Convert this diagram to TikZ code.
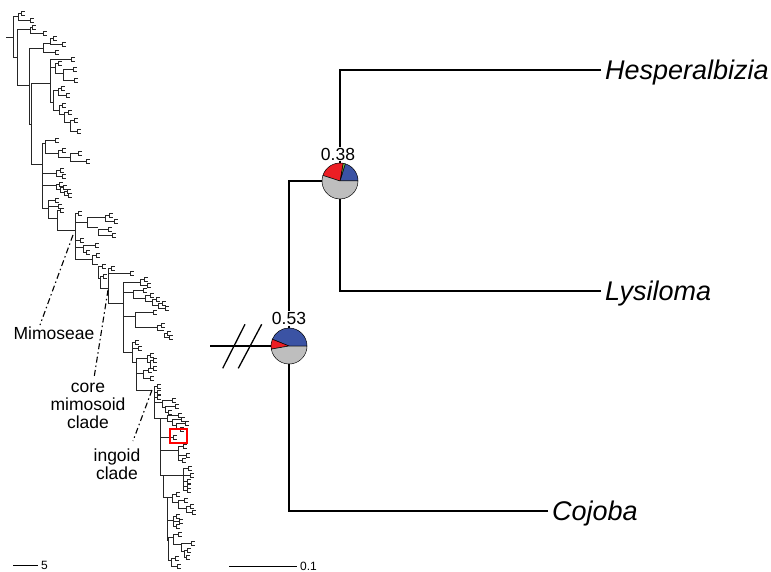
\documentclass[tikz,border=0pt]{standalone}
\usepackage{fontspec}
\setmainfont{Liberation Sans}
\usepackage{xcolor}
\usetikzlibrary{positioning, calc}
\definecolor{pieblue}{RGB}{59,83,164}
\definecolor{piered}{RGB}{236,30,36}
\definecolor{piegreen}{RGB}{110,190,70}
\definecolor{piegrey}{RGB}{190,190,190}
\tikzset{
  lefttree/.style  = {draw=black!85, line width=0.75pt},
  br/.style        = {draw=black, line width=1.5pt},
  taxon/.style     = {anchor=west, inner sep=4pt, text height=19.4pt, text depth=0pt,
                      font=\fontsize{27}{30}\selectfont\itshape},
  prob/.style      = {fill=white, inner sep=1pt, font=\fontsize{17.5}{20}\selectfont},
  pie/.style       = {circle, minimum size=36pt, inner sep=0pt},
  slice/.style     = {draw=black, line width=0.5pt, line join=round},
  cladelbl/.style  = {align=center, inner sep=0pt, font=\fontsize{17.5}{18}\selectfont},
  cladeline/.style = {line width=1.1pt, dash pattern=on 6pt off 3pt on 1.5pt off 3pt},
  scalelbl/.style  = {anchor=base west, inner sep=0pt, font=\fontsize{12}{14}\selectfont},
}

\begin{document}
\begin{tikzpicture}[x=1pt, y=-1pt]
  \useasboundingbox (0,0) rectangle (771,572);

  % Full tree (left): bifurcations x / x1 / y1 / x2 / y2
  \draw[lefttree] (6,37) -- (13,37);
  \foreach \x/\xa/\ya/\xb/\yb in {
      13/18/16/17/57, 18/21/13/30/20, 17/30/29/30/85, 30/32/27/43/33,
      29.5/43/48/31/124, 43/50/43/55/52, 50/53/38/62/44, 31/50/83/42/164,
      50/71/59/53/102, 50/50/67/55/67, 55/58/63/63/73, 63/73/69/74/80,
      53/58/90/59/110, 58/61/88/66/95, 59/62/105/64/114, 64/68/112/70/122,
      70/74/120/77/131,
      42/45/143/48/208, 42/42/173/56/173, 42/42/185/56/185, 45/55/140/58/153,
      58/62/150/70/157, 70/78/153/86/161, 56/60/170/62/176, 56/59/184/60/189,
      60/63/187/64/192, 64/67/191/68/195, 48/55/200/57/218, 48/48/206/58/206,
      57/60/210/75/230,
      75/78/213/92/259, 75/75/222/87/222, 87/105/217/98/227, 105/109/215/114/221,
      98/108/229/112/235, 75/75/240/80/240, 75/75/247/83/247, 83/95/245/86/252,
      92/96/255/98/264, 98/102/266/100/278, 100/103/276/108/288,
      108/111/268/123/303, 108/108/273/130/273, 123/140/282/132/352,
      140/144/279/147/285, 123/123/292/133/292, 133/143/290/145/298,
      145/150/295/152/301, 152/156/299/158/305, 158/162/303/165/308,
      123/123/316/135/316, 135/153/312/157/327, 157/161/325/164/330,
      164/167/333/169/337, 132/135/342/136/362, 132/132/348/138/348,
      136/147/358/152/390, 147/150/355/150/362, 150/153/360/153/368,
      136/136/373/143/373, 143/148/370/150/378,
      154/157/386/160/418, 154/154/392/157/392, 154/154/397/157/397,
      154/154/402/162/402, 162/172/400/165/407, 165/175/406/168/412,
      160/167/418/163/475, 160/160/437/173/437, 160/160/450/178/450,
      167/178/415/172/421, 172/181/419/176/425, 176/185/423/180/429,
      178/183/446/182/460, 178/178/455/186/455,
      163/183/475/167/497, 183/188/468/187/490, 183/183/475/190/475,
      183/183/481/187/481, 183/183/486/187/486,
      167/172/497/168/540, 172/176/494/178/502, 178/184/500/186/508,
      186/190/506/192/512, 167/167/520/173/520, 173/176/516/176/526,
      173/173/521/179/521, 168/173/537/171/560, 173/178/534/181/544,
      181/191/543/184/551, 184/187/550/186/557, 171/175/558/177/566}
    \draw[lefttree] (\xa,\ya) -| (\x,\yb) -- (\xb,\yb);
  % tips
  \foreach \x/\y in {
      21/13, 30/20, 32/27, 43/33, 53/38, 62/44, 55/52, 71/59, 58/63, 73/69,
      74/80, 61/88, 66/95, 62/105, 68/112, 74/120, 77/131,
      55/140, 62/150, 78/153, 86/161, 60/170, 62/176, 59/184, 63/187, 67/191,
      68/195, 55/200, 58/206, 60/210,
      78/213, 109/215, 114/221, 108/229, 112/235, 80/240, 95/245, 86/252,
      96/255, 102/266, 103/276,
      111/268, 130/273, 144/279, 147/285, 143/290, 150/295, 156/299, 162/303,
      165/308, 153/312, 161/325, 167/333, 169/337, 135/342, 138/348, 150/355,
      153/360, 153/368, 148/370, 150/378,
      157/386, 157/392, 157/397, 172/400, 175/406, 168/412, 178/415, 181/419,
      185/423, 180/429, 173/437, 183/446, 186/455, 182/460, 188/468, 190/475,
      187/481, 187/486, 187/490, 176/494, 184/500, 190/506, 192/512, 176/516,
      179/521, 176/526, 178/534, 191/543, 187/550, 186/557, 175/558, 177/566}
    \draw[lefttree] (\x+3.5,\y-2) -| (\x,\y+2) -- (\x+3.5,\y+2);

  % highlighted clade
  \draw[red, line width=1.2pt] (170,429) rectangle (187,443);

  % Clade labels
  \node[cladelbl] (mim)  at (54,333)  {Mimoseae};
  \node[cladelbl] (core) at (88,406)  {core\\mimosoid\\clade};
  \node[cladelbl] (ingo) at (117,464) {ingoid\\clade};
  \coordinate (mimnode)  at (73,235);
  \coordinate (mimend)   at (40,325);
  \coordinate (corenode) at (108,290);
  \coordinate (coreend)  at (94,378);
  \coordinate (ingonode) at (152,390);
  \coordinate (ingoend)  at (133,441);
  \draw[cladeline] (mimnode) -- (mimend);
  \draw[cladeline] (corenode) -- (coreend);
  \draw[cladeline] (ingonode) -- (ingoend);

  % Scale bars
  \coordinate (sba) at (13,565);
  \coordinate (sbb) at (38,565);
  \draw[line width=1pt] (sba) -- (sbb);
  \node[scalelbl] (sbl) at (41,569.5) {5};
  \coordinate (sbc) at (229,566);
  \coordinate (sbd) at (297,566);
  \draw[line width=1pt] (sbc) -- (sbd);
  \node[scalelbl] (sbr) at (300,570.5) {0.1};

  % Pruned tree (right)
  \node[pie] (pA) at (340,181) {};
  \node[pie] (pB) at (289,346) {};
  \node[taxon] (hesp) at (601,70)  {Hesperalbizia};
  \node[taxon] (lysi) at (601,291) {Lysiloma};
  \node[taxon] (cojo) at (548,511) {Cojoba};

  \draw[br] (hesp.west) -| (pA.north);
  \draw[br] (lysi.west) -| (pA.south);
  \draw[br] (pA.west) -| (pB.north);
  \draw[br] (cojo.west) -| (pB.south);
  \coordinate (stub) at (210,346);
  \draw[br] (stub) -- (pB.west);

  % posterior values
  \node[prob] (nA) at (338,154)   {0.38};
  \node[prob] (nB) at (289,318.5) {0.53};

  % break marks
  \coordinate (k1a) at (222.7,368.3);
  \coordinate (k1b) at (245,324.3);
  \coordinate (k2a) at (238.3,368.3);
  \coordinate (k2b) at (261.7,324.3);
  \draw[line width=1.3pt] (k1a) -- (k1b);
  \draw[line width=1.3pt] (k2a) -- (k2b);

  % Ancestral state pies
  \foreach \a/\b/\c in {0/73/pieblue, 73/80/piegreen, 80/162/piered, 162/360/piegrey}
    \filldraw[slice, fill=\c] (pA.center) -- ++(\a:18pt)
      arc[start angle=\a, end angle=\b, radius=18pt] -- cycle;
  \foreach \a/\b/\c in {0/158/pieblue, 158/190/piered, 190/360/piegrey}
    \filldraw[slice, fill=\c] (pB.center) -- ++(\a:18pt)
      arc[start angle=\a, end angle=\b, radius=18pt] -- cycle;
\end{tikzpicture}
\end{document}
